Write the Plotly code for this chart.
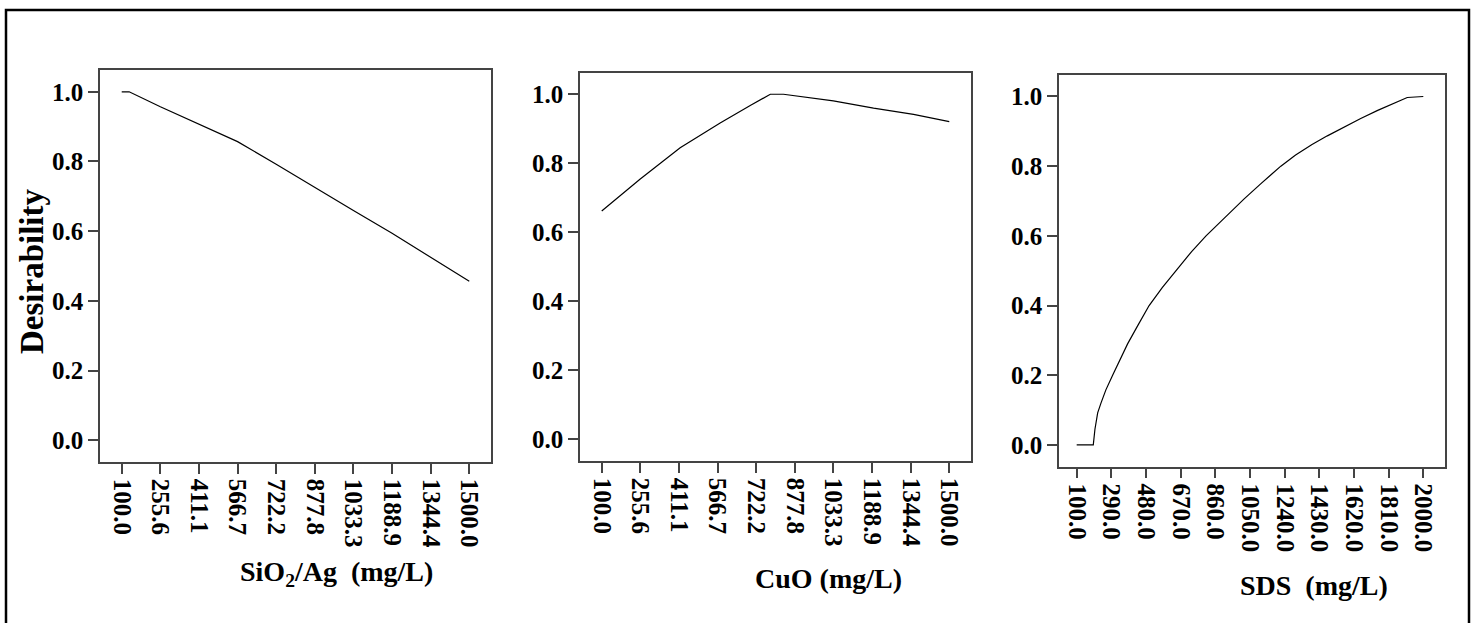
import plotly.graph_objects as go

W, H = 1477, 623

# ---- data ----
sio2_x = [100, 130, 255.6, 411.1, 566.7, 722.2, 877.8, 1033.3, 1188.9, 1344.4, 1500]
sio2_y = [1.0, 1.0, 0.957, 0.907, 0.857, 0.792, 0.725, 0.659, 0.594, 0.526, 0.456]

cuo_x = [100, 133, 254, 416, 577, 700, 779, 832, 1033, 1195, 1356, 1500]
cuo_y = [0.662, 0.682, 0.754, 0.845, 0.917, 0.968, 1.0, 1.0, 0.981, 0.960, 0.942, 0.921]

sds_x = [100, 191, 200, 206, 215, 233, 260, 297, 340, 379, 430, 497, 570, 653, 730, 809,
         925, 1018, 1110, 1219, 1300, 1390, 1474, 1565, 1657, 1750, 1839, 1912, 2000]
sds_y = [0.0, 0.0, 0.045, 0.070, 0.092, 0.120, 0.158, 0.200, 0.248, 0.290, 0.338, 0.400, 0.452,
         0.507, 0.555, 0.600, 0.660, 0.706, 0.750, 0.800, 0.832, 0.862, 0.887, 0.913, 0.937,
         0.960, 0.981, 0.997, 1.0]

ticks_15 = [100.0, 255.6, 411.1, 566.7, 722.2, 877.8, 1033.3, 1188.9, 1344.4, 1500.0]
ticks_15_text = ["100.0", "255.6", "411.1", "566.7", "722.2", "877.8", "1033.3", "1188.9", "1344.4", "1500.0"]
ticks_20 = [100, 290, 480, 670, 860, 1050, 1240, 1430, 1620, 1810, 2000]
ticks_20_text = ["100.0", "290.0", "480.0", "670.0", "860.0", "1050.0", "1240.0", "1430.0", "1620.0", "1810.0", "2000.0"]
y_ticks = [0.0, 0.2, 0.4, 0.6, 0.8, 1.0]
y_ticks_text = ["0.0", "0.2", "0.4", "0.6", "0.8", "1.0"]

titles = ["SiO<sub>2</sub>/Ag\u00a0\u00a0(mg/L)", "CuO (mg/L)", "SDS\u00a0\u00a0(mg/L)"]
y_title = "Desirability"

FONT = "Liberation Serif"
AX = "#444444"

fig = go.Figure()
series = [(sio2_x, sio2_y), (cuo_x, cuo_y), (sds_x, sds_y)]
for i, (xs, ys) in enumerate(series):
    suf = "" if i == 0 else str(i + 1)
    fig.add_trace(go.Scatter(x=xs, y=ys, mode="lines",
                             line=dict(color="black", width=1.2),
                             xaxis="x" + suf, yaxis="y" + suf,
                             showlegend=False, hoverinfo="skip"))

# panel boxes in pixels (left, right, top, bottom)
boxes = [(100, 491, 70, 462), (580, 971, 72.7, 461), (1059, 1445, 74.7, 466.7)]
xranges = [[12.5, 1587.5], [12.5, 1587.5], [3, 2119]]
xticks = [(ticks_15, ticks_15_text), (ticks_15, ticks_15_text), (ticks_20, ticks_20_text)]

layout = dict(
    width=W, height=H, autosize=False,
    margin=dict(l=0, r=0, t=0, b=0),
    paper_bgcolor="white", plot_bgcolor="white",
    showlegend=False,
)
for i, (l, r, t, b) in enumerate(boxes):
    suf = "" if i == 0 else str(i + 1)
    common = dict(showline=True, mirror=True, linecolor=AX, linewidth=1.5,
                  ticks="outside", ticklen=10, tickwidth=1.5, tickcolor=AX,
                  showgrid=False, zeroline=False, fixedrange=True,
                  tickfont=dict(family=FONT, size=25, color="black", weight="bold"))
    layout["xaxis" + suf] = dict(common, domain=[l / W, r / W], range=xranges[i],
                                 anchor="y" + suf, tickmode="array",
                                 tickvals=xticks[i][0], ticktext=xticks[i][1],
                                 tickangle=90)
    layout["yaxis" + suf] = dict(common, domain=[1 - b / H, 1 - t / H], range=[-0.0625, 1.0625],
                                 anchor="x" + suf, tickmode="array",
                                 tickvals=y_ticks, ticktext=y_ticks_text)

annotations = []
title_pos = [(336, 573), (828, 578), (1314, 585)]
for txt, (px, py) in zip(titles, title_pos):
    annotations.append(dict(text=txt, x=px / W, y=1 - py / H, xref="paper", yref="paper",
                            showarrow=False, xanchor="center", yanchor="middle",
                            font=dict(family=FONT, size=28, color="black", weight="bold")))
annotations.append(dict(text=y_title, x=31.5 / W, y=1 - 271.5 / H, xref="paper", yref="paper",
                        showarrow=False, xanchor="center", yanchor="middle", textangle=-90,
                        font=dict(family=FONT, size=33, color="black", weight="bold")))
layout["annotations"] = annotations

layout["shapes"] = [dict(type="rect", xref="paper", yref="paper",
                         x0=6 / W, x1=1469 / W, y0=-0.05, y1=1 - 10 / H,
                         line=dict(color="black", width=2.5), fillcolor="rgba(0,0,0,0)")]

fig.update_layout(**layout)
fig.write_html("out.html")
